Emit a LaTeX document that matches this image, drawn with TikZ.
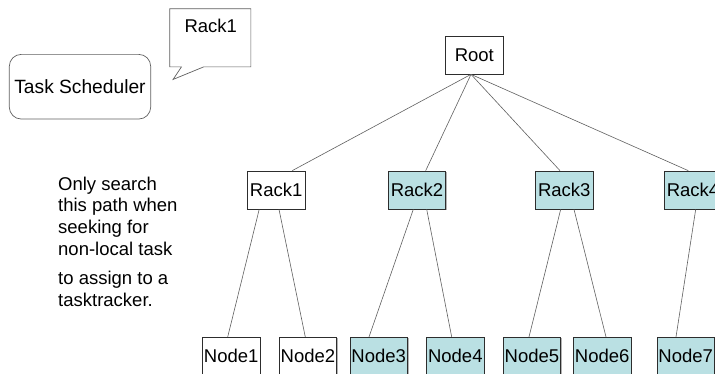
\documentclass[tikz,border=0pt]{standalone}
\usepackage{fontspec}
\setmainfont{Liberation Sans}
\usetikzlibrary{shadows}
\definecolor{boxline}{RGB}{45,45,45}
\definecolor{edgegray}{RGB}{95,95,95}
\definecolor{rackfill}{RGB}{186,224,227}
\tikzset{
  txt/.style={font=\fontsize{18.5}{21.7}\selectfont, text=black},
  treebox/.style={txt, draw=boxline, line width=0.7pt, fill=white,
    minimum width=57.5pt, minimum height=38pt, inner sep=0pt,
    drop shadow={shadow xshift=1.1pt, shadow yshift=-1.1pt, fill=gray, opacity=0.6}},
  remote/.style={treebox, fill=rackfill},
  link/.style={draw=edgegray, line width=0.6pt},
}
\begin{document}
\begin{tikzpicture}[x=1pt, y=-1pt]
\useasboundingbox (0,0) rectangle (715,373);
\clip (0,0) rectangle (715,373);

% scheduler box
\node[txt, font=\fontsize{19.2}{22}\selectfont, draw=edgegray, line width=0.7pt, rounded corners=12pt,
  minimum width=141.4pt, minimum height=64.7pt, inner sep=0pt] (sched) at (80,86.7) {Task Scheduler};

% speech callout naming the rack
\node[minimum width=80.7pt, minimum height=57.7pt, inner sep=0pt] (callout) at (210.3,37.8) {};
\draw[draw=edgegray, line width=0.7pt, fill=white]
  (callout.north west) -- (callout.north east) -- (callout.south east)
  -- ([xshift=34pt]callout.south west)
  -- ([xshift=3.3pt, yshift=-12.6pt]callout.south west)
  -- ([xshift=11.7pt]callout.south west)
  -- (callout.south west) -- cycle;
\node[txt, anchor=base, inner sep=0pt] (calltext) at (210.8,32.5) {Rack1};

% explanatory note
\node[txt, anchor=north west, align=left, inner sep=0pt] (note1) at (58,176.5)
  {Only search\\this path when\\seeking for\\non-local task};
\node[txt, anchor=north west, align=left, inner sep=0pt] (note2) at (58,271)
  {to assign to a\\tasktracker.};

% tree
\node[treebox] (root)  at (474.3,55) {Root};
\node[treebox] (rack1) at (276.2,190) {Rack1};
\node[remote]  (rack2) at (417,190) {Rack2};
\node[remote]  (rack3) at (564.3,190) {Rack3};
\node[remote]  (rack4) at (693,190) {Rack4};

\node[treebox] (n1) at (231.2,356.3) {Node1};
\node[treebox] (n2) at (308,356.3) {Node2};
\node[remote]  (n3) at (378.7,356.3) {Node3};
\node[remote]  (n4) at (455.3,356.3) {Node4};
\node[remote]  (n5) at (532,356.3) {Node5};
\node[remote]  (n6) at (602.2,356.3) {Node6};
\node[remote]  (n7) at (685.7,356.3) {Node7};

\draw[link] ([xshift=-3.3pt]root.south) -- ([xshift=16pt]rack1.north);
\draw[link] ([xshift=-3.3pt]root.south) -- ([xshift=8.7pt]rack2.north);
\draw[link] ([xshift=-3.3pt]root.south) -- ([xshift=-4.3pt]rack3.north);
\draw[link] ([xshift=-3.3pt]root.south) -- ([xshift=-4.7pt]rack4.north);

\draw[link] ([xshift=-17pt]rack1.south) -- ([xshift=-3.5pt]n1.north);
\draw[link] ([xshift=2.8pt]rack1.south) -- ([xshift=-2.7pt]n2.north);
\draw[link] ([xshift=-3.7pt]rack2.south) -- ([xshift=-9.7pt]n3.north);
\draw[link] ([xshift=9.7pt]rack2.south) -- ([xshift=-3.6pt]n4.north);
\draw[link] ([xshift=-3.6pt]rack3.south) -- ([xshift=-3pt]n5.north);
\draw[link] ([xshift=9.7pt]rack3.south) -- ([xshift=3.8pt]n6.north);
\draw[link] ([xshift=2.7pt]rack4.south) -- ([xshift=-9.7pt]n7.north);
\end{tikzpicture}
\end{document}
